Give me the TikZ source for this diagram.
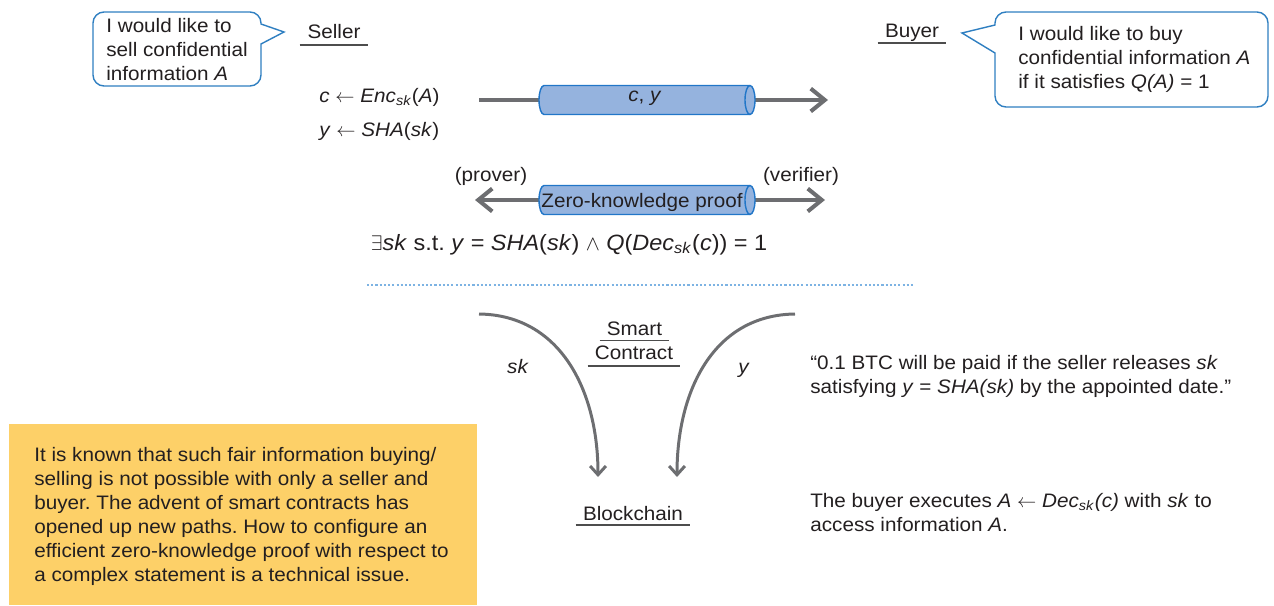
\documentclass[tikz,border=0pt]{standalone}
\usepackage{fontspec}
\setmainfont{Liberation Sans}[FakeStretch=1.06]
\usetikzlibrary{arrows.meta}
\frenchspacing
\definecolor{txt}{HTML}{231F20}
\definecolor{arrgray}{HTML}{6D6E71}
\definecolor{cylfill}{HTML}{95B3DE}
\definecolor{cylline}{HTML}{2176C8}
\definecolor{callblue}{HTML}{2F7FC1}
\definecolor{noteyellow}{HTML}{FDD068}
\definecolor{linegray}{HTML}{4D4D4D}
\definecolor{dotblue}{HTML}{7DB3E3}
\newcommand\mycyl[3]{%
  \path[cylstyle] (#1+5,#3-14.5) -- (#2-5,#3-14.5)
    arc[start angle=90,end angle=-90,x radius=0.1cm,y radius=0.29cm]
    -- (#1+5,#3+14.5)
    arc[start angle=270,end angle=90,x radius=0.1cm,y radius=0.29cm] -- cycle;
  \draw[draw=cylline, line width=0.8pt] (#2-5,#3-14.5)
    arc[start angle=90,end angle=270,x radius=0.1cm,y radius=0.29cm];}
\begin{document}
\begin{tikzpicture}[x=0.02cm,y=-0.02cm,
  every node/.style={text=txt, font=\fontsize{11.1}{13.6}\selectfont, inner sep=0pt},
  lbl/.style={anchor=base},
  multiline/.style={align=left, anchor=base west},
  uline/.style={draw=linegray, line width=0.6pt},
  bigarrow/.style={draw=arrgray, line width=2.3pt, -{Straight Barb[length=8pt,width=13pt]}},
  bigarrowboth/.style={draw=arrgray, line width=2.3pt, {Straight Barb[length=8pt,width=13pt]}-{Straight Barb[length=8pt,width=13pt]}},
  curvearrow/.style={draw=arrgray, line width=1.7pt, -{Straight Barb[length=5pt,width=9pt]}},
  cylstyle/.style={fill=cylfill, draw=cylline, line width=0.8pt},
  callout/.style={draw=callblue, line width=0.8pt, fill=white},
  dotline/.style={draw=dotblue, line width=0.6pt, dash pattern=on 1.2pt off 1.2pt},
  notebox/.style={fill=noteyellow, anchor=north west, minimum width=9.36cm, minimum height=3.62cm}
]
\useasboundingbox (0,0) rectangle (1274,605);

% Seller side
\draw[callout] (261,24) [rounded corners=0.22cm] -- (261,12) -- (93,12) -- (93,86) -- (261,86) [sharp corners] -- (261,44) -- (284,32) -- cycle;
\node[multiline] (sellq) at (106,80) {I would like to\\sell confidential\\information \textit{A}};
\node[lbl, minimum width=1.36cm] (seller) at (334,38) {Seller};
\draw[uline] ([yshift=-0.14cm]seller.base west) -- ([yshift=-0.14cm]seller.base east);
\node[anchor=base west] (enc) at (319,102) {\textit{c} $\leftarrow$ \textit{Enc}\textsubscript{\textit{sk}}(\textit{A})};
\node[anchor=base west] (sha) at (319,136) {\textit{y} $\leftarrow$ \textit{SHA}(\textit{sk})};

% Buyer side
\draw[callout] (995,25) [rounded corners=0.22cm] -- (995,12) -- (1268,12) -- (1268,107) -- (995,107) [sharp corners] -- (995,53) -- (962,33) -- cycle;
\node[multiline] (buyq) at (1018,88) {I would like to buy\\confidential information \textit{A}\\if it satisfies \textit{Q(A)} = 1};
\node[lbl, minimum width=1.36cm] (buyer) at (912,37) {Buyer};
\draw[uline] ([yshift=-0.12cm]buyer.base west) -- ([yshift=-0.12cm]buyer.base east);

% c, y transfer
\coordinate (a1s) at (479,100);
\coordinate (a1e) at (828,100);
\draw[bigarrow] (a1s) -- (a1e);
\mycyl{539}{755}{100}
\node[lbl] (cy) at (645,101) {\textit{c}, \textit{y}};

% zero-knowledge proof
\coordinate (zs) at (475,200);
\coordinate (ze) at (825,200);
\draw[bigarrowboth] (zs) -- (ze);
\mycyl{539}{755}{200}
\node[lbl] (zk) at (642,207) {Zero-knowledge proof};
\node[lbl] (prover) at (491,181) {(prover)};
\node[lbl] (verifier) at (801,181) {(verifier)};
\node[lbl, font=\fontsize{12.6}{14}\selectfont] (stmt) at (569,250) {$\exists$\textit{sk} s.t. \textit{y} = \textit{SHA}(\textit{sk}) $\wedge$ \textit{Q}(\textit{Dec}\textsubscript{\textit{sk}}(\textit{c})) = 1};

% separator
\coordinate (d1) at (367,285);
\coordinate (d2) at (915,285);
\draw[dotline] (d1) -- (d2);

% smart contract
\node[lbl, minimum width=1.38cm] (smart) at (634.5,335) {Smart};
\draw[uline] ([yshift=-0.11cm]smart.base west) -- ([yshift=-0.11cm]smart.base east);
\node[lbl, minimum width=1.84cm] (contract) at (634,359) {Contract};
\draw[uline] ([yshift=-0.14cm]contract.base west) -- ([yshift=-0.14cm]contract.base east);

\coordinate (skS) at (479,314);
\coordinate (skE) at (598,477);
\draw[curvearrow] (skS) .. controls (560,315) and (598,390) .. (skE);
\coordinate (yS) at (795,314);
\coordinate (yE) at (677,477);
\draw[curvearrow] (yS) .. controls (714,315) and (677,390) .. (yE);
\node[lbl] (sklbl) at (518,373) {\textit{sk}};
\node[lbl] (ylbl) at (744,373) {\textit{y}};

\node[lbl, minimum width=2.28cm] (chain) at (633,520) {Blockchain};
\draw[uline] ([yshift=-0.1cm]chain.base west) -- ([yshift=-0.1cm]chain.base east);

\node[multiline] (rule) at (810,393) {“0.1 BTC will be paid if the seller releases \textit{sk}\\satisfying \textit{y} = \textit{SHA(sk)} by the appointed date.”};
\node[multiline] (exec) at (810,531) {The buyer executes \textit{A} $\leftarrow$ \textit{Dec}\textsubscript{\textit{sk}}\textit{(c)} with \textit{sk} to\\access information \textit{A}.};

% note
\node[notebox] (note) at (9,424) {};
\node[multiline] (notetext) at (34,581) {It is known that such fair information buying/\\selling is not possible with only a seller and\\buyer. The advent of smart contracts has\\opened up new paths. How to configure an\\efficient zero-knowledge proof with respect to\\a complex statement is a technical issue.};
\end{tikzpicture}
\end{document}
